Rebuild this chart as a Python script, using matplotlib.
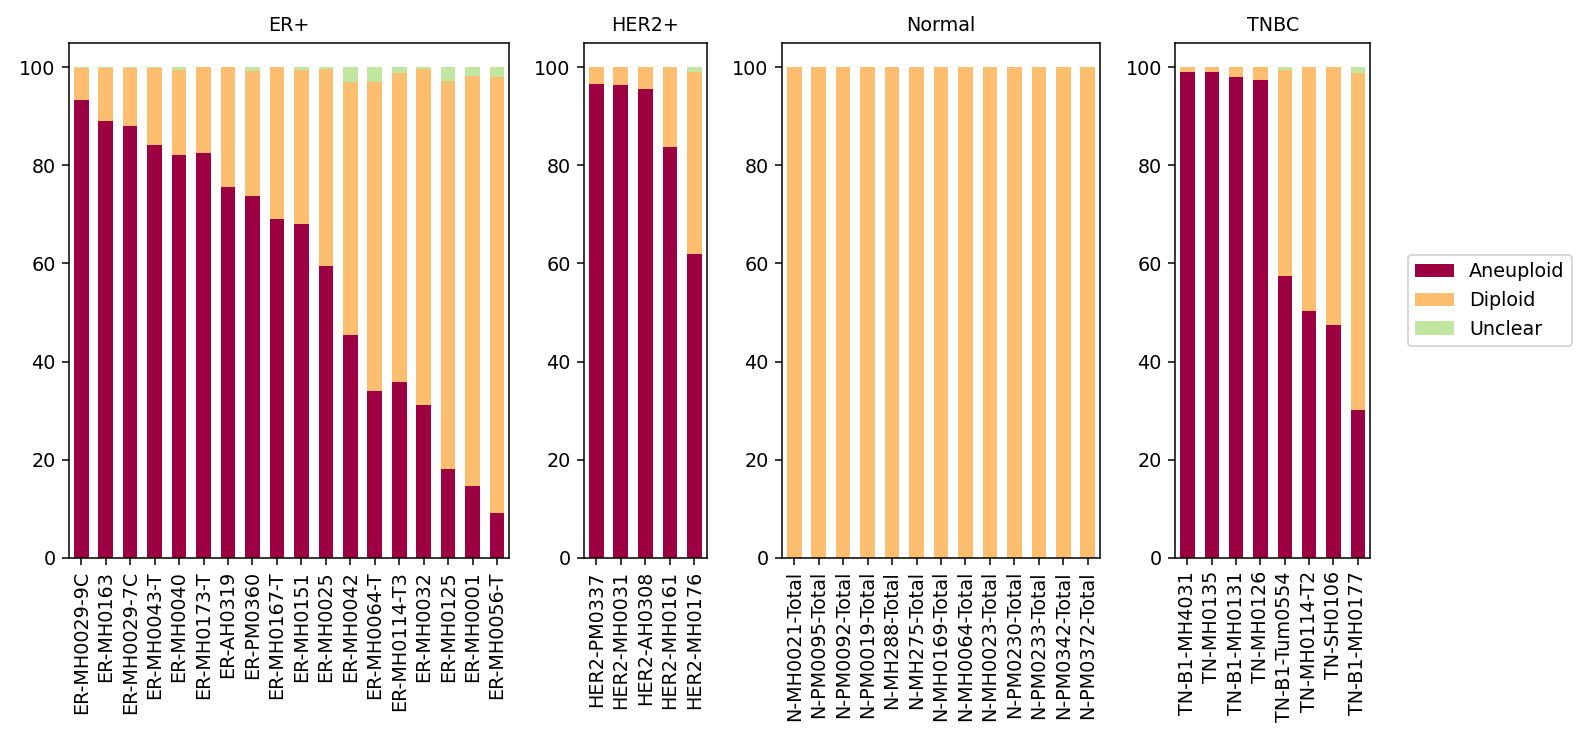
import numpy as np
import matplotlib
matplotlib.use('Agg')
import matplotlib.pyplot as plt

# sample groups and per-sample percentages (Aneuploid / Diploid / Unclear)
er_samples = ['ER-MH0029-9C', 'ER-MH0163', 'ER-MH0029-7C', 'ER-MH0043-T', 'ER-MH0040',
              'ER-MH0173-T', 'ER-AH0319', 'ER-PM0360', 'ER-MH0167-T', 'ER-MH0151',
              'ER-MH0025', 'ER-MH0042', 'ER-MH0064-T', 'ER-MH0114-T3', 'ER-MH0032',
              'ER-MH0125', 'ER-MH0001', 'ER-MH0056-T']
er_aneuploid = [93.3, 89.0, 88.0, 84.1, 82.2, 82.6, 75.6, 73.7, 69.1, 68.0,
                59.5, 45.5, 33.9, 35.8, 31.2, 18.0, 14.7, 9.2]
er_unclear = [0.2, 0.2, 0.2, 0.2, 0.6, 0.0, 0.0, 0.8, 0.0, 0.6,
              0.4, 3.0, 3.0, 1.2, 0.4, 2.9, 1.8, 2.0]

her2_samples = ['HER2-PM0337', 'HER2-MH0031', 'HER2-AH0308', 'HER2-MH0161', 'HER2-MH0176']
her2_aneuploid = [96.5, 96.3, 95.5, 83.7, 62.0]
her2_unclear = [0.0, 0.0, 0.0, 0.0, 1.0]

normal_samples = ['N-MH0021-Total', 'N-PM0095-Total', 'N-PM0092-Total', 'N-PM0019-Total',
                  'N-MH288-Total', 'N-MH275-Total', 'N-MH0169-Total', 'N-MH0064-Total',
                  'N-MH0023-Total', 'N-PM0230-Total', 'N-PM0233-Total', 'N-PM0342-Total',
                  'N-PM0372-Total']
normal_aneuploid = [0.0] * 13
normal_unclear = [0.0] * 13

tnbc_samples = ['TN-B1-MH4031', 'TN-MH0135', 'TN-B1-MH0131', 'TN-MH0126', 'TN-B1-Tum0554',
                'TN-MH0114-T2', 'TN-SH0106', 'TN-B1-MH0177']
tnbc_aneuploid = [99.0, 99.0, 98.0, 97.35, 57.5, 50.2, 47.4, 30.1]
tnbc_unclear = [0.0, 0.0, 0.0, 0.0, 0.55, 0.0, 0.0, 1.2]

groups = [('ER+', er_samples, er_aneuploid, er_unclear),
          ('HER2+', her2_samples, her2_aneuploid, her2_unclear),
          ('Normal', normal_samples, normal_aneuploid, normal_unclear),
          ('TNBC', tnbc_samples, tnbc_aneuploid, tnbc_unclear)]

colors = {'Aneuploid': '#9e0142', 'Diploid': '#fdbe70', 'Unclear': '#c1e6a0'}

W, H, DPI = 1583, 752, 138
fig = plt.figure(figsize=(W / DPI, H / DPI), dpi=DPI)

# axes edges in pixels (left, right), shared top/bottom
edges = [(69, 509.3), (584, 706.7), (782, 1100), (1175.3, 1370)]
top, bottom = 42.7, 557.7

for (title, names, aneu, uncl), (x0, x1) in zip(groups, edges):
    ax = fig.add_axes([x0 / W, 1 - bottom / H, (x1 - x0) / W, (bottom - top) / H])
    aneu = np.array(aneu)
    uncl = np.array(uncl)
    dip = 100 - aneu - uncl
    x = np.arange(len(names))
    ax.bar(x, aneu, width=0.6, color=colors['Aneuploid'], label='Aneuploid')
    ax.bar(x, dip, width=0.6, bottom=aneu, color=colors['Diploid'], label='Diploid')
    ax.bar(x, uncl, width=0.6, bottom=aneu + dip, color=colors['Unclear'], label='Unclear')
    ax.set_xlim(-0.5, len(names) - 0.5)
    ax.set_ylim(0, 105)
    ax.set_yticks([0, 20, 40, 60, 80, 100])
    ax.set_xticks(x)
    ax.set_xticklabels(names, rotation=90)
    ax.set_title(title, fontsize=10)
    if title == 'ER+':
        handles, labels = ax.get_legend_handles_labels()

fig.legend(handles, labels, loc='center left', bbox_to_anchor=((1407.7 - 9.6) / W, 1 - 300.5 / H))

fig.savefig('out.png', dpi=DPI)
